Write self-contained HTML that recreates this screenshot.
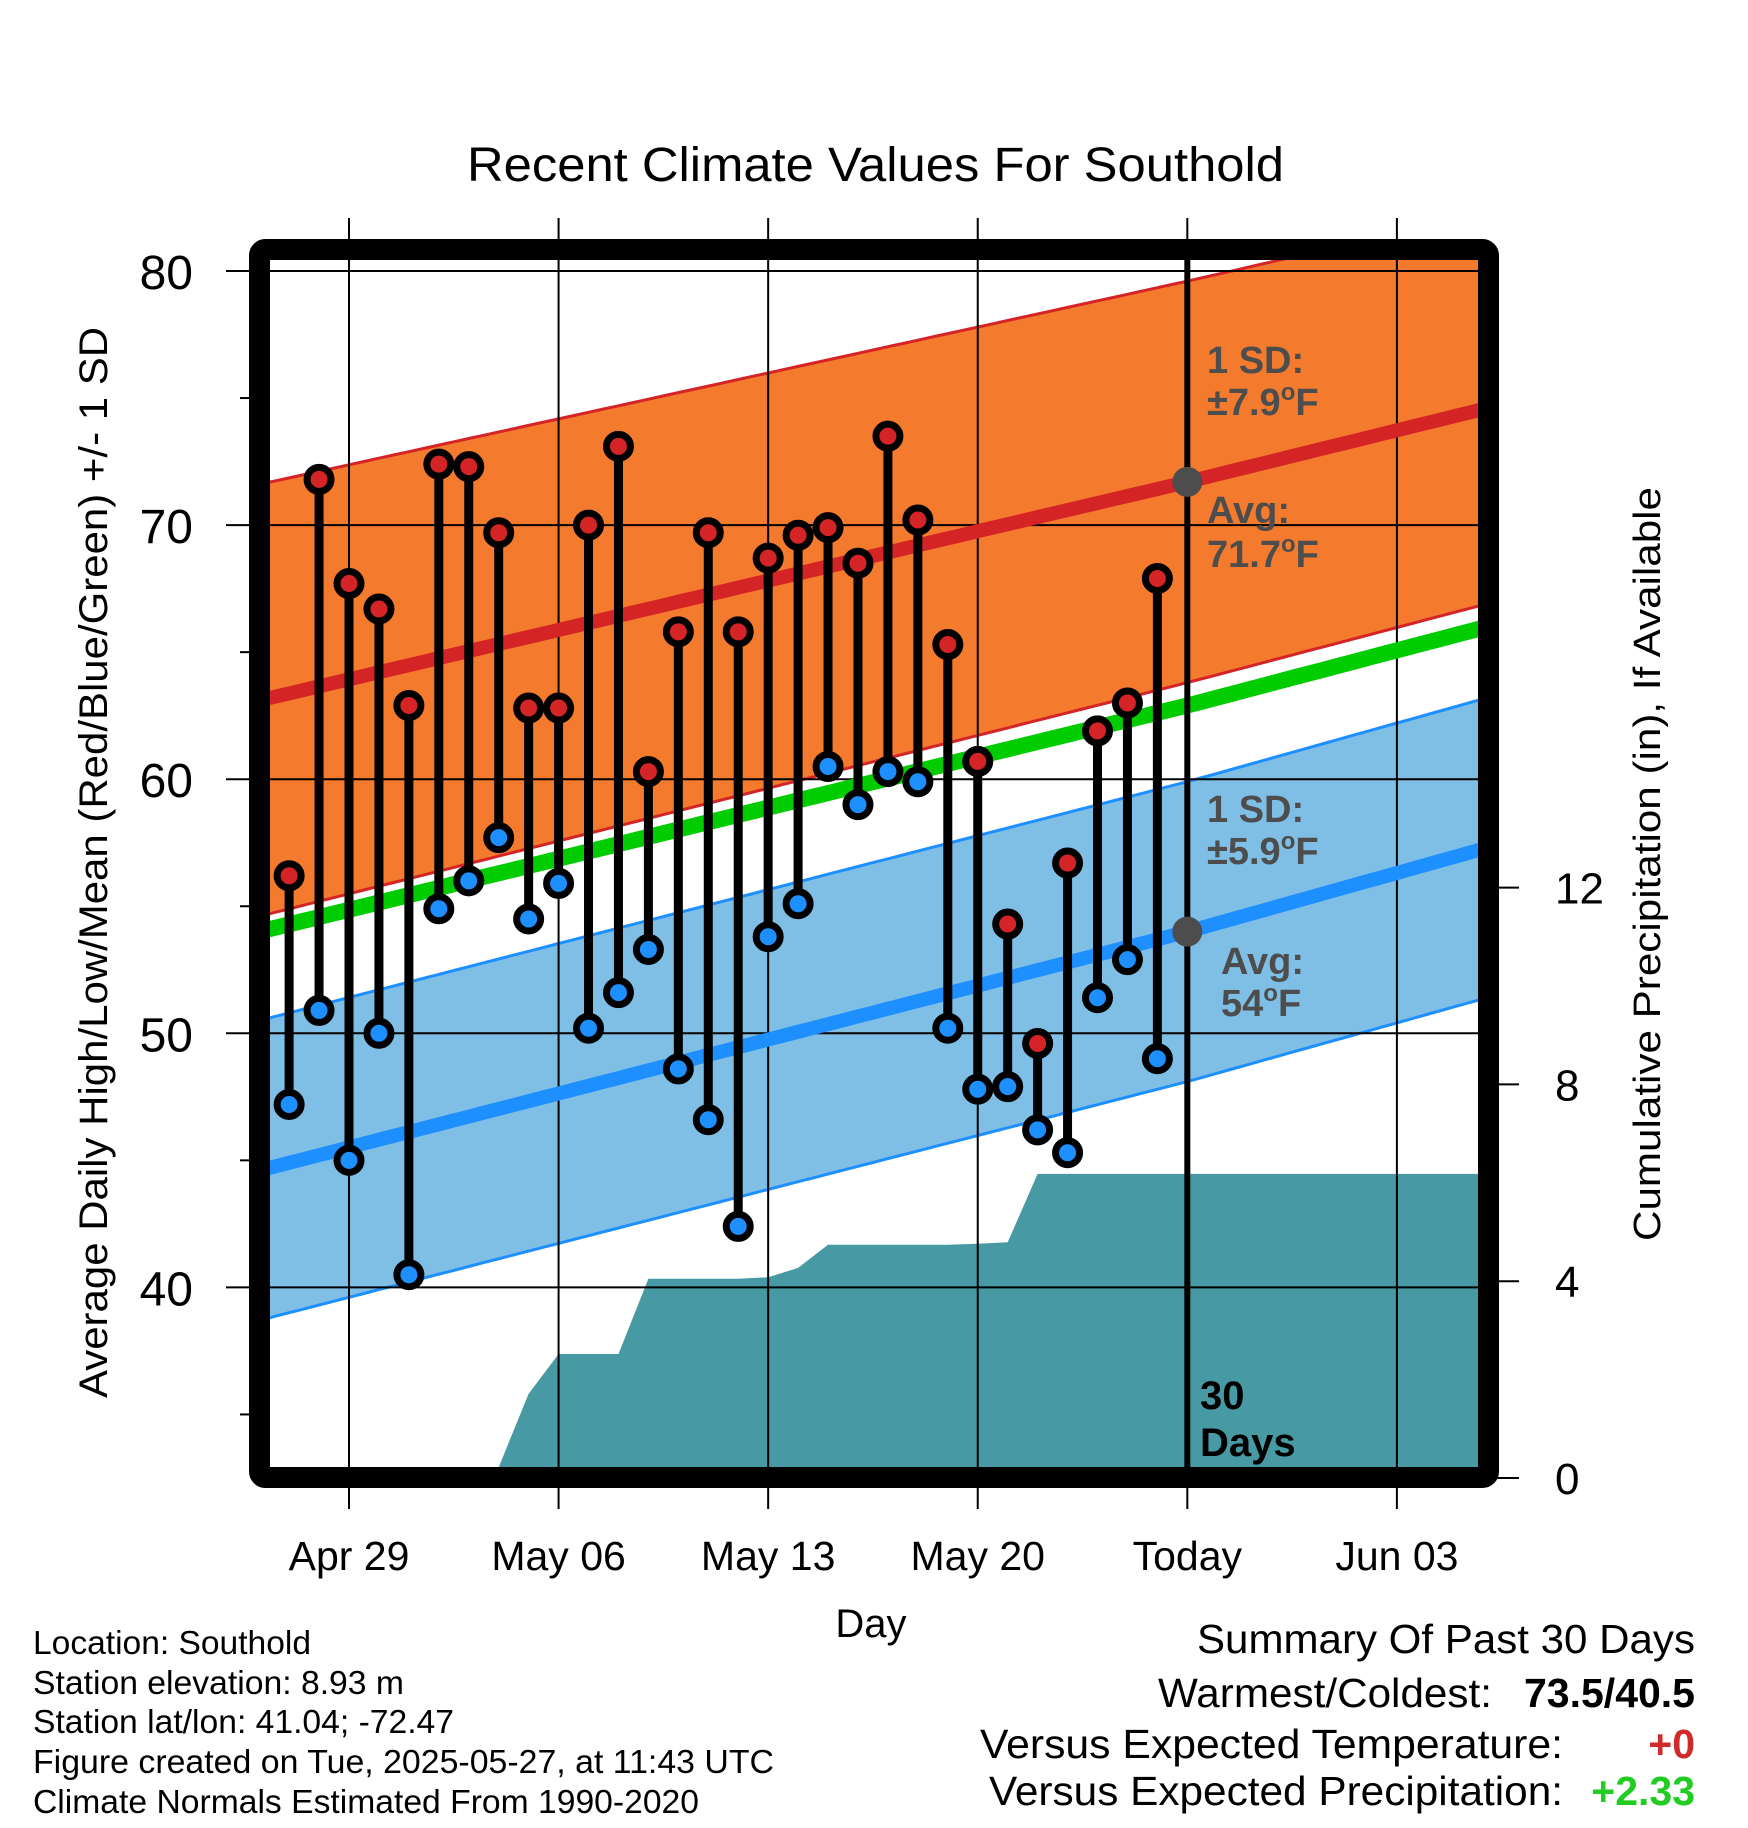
<!DOCTYPE html>
<html><head><meta charset="utf-8"><style>
html,body{margin:0;padding:0;background:#fff;}
svg{display:block;font-family:"Liberation Sans",Arial,sans-serif;}
</style></head><body>
<svg id="chart" width="1748" height="1828" viewBox="0 0 1748 1828" xmlns="http://www.w3.org/2000/svg">
<defs><clipPath id="plotclip"><rect x="270" y="260" width="1208" height="1208"/></clipPath></defs>
<g id="bands" clip-path="url(#plotclip)"></g>
<g id="grid"></g>
<g id="lines" clip-path="url(#plotclip)"></g>
<g id="marks"></g>
<g id="axes"></g>
<text x="467" y="181" font-size="48" textLength="817" lengthAdjust="spacingAndGlyphs">Recent Climate Values For Southold</text>
<text transform="translate(107,1398) rotate(-90)" font-size="40" textLength="1071" lengthAdjust="spacingAndGlyphs">Average Daily High/Low/Mean (Red/Blue/Green) +/- 1 SD</text>
<text transform="translate(1660,1241) rotate(-90)" font-size="38" textLength="754" lengthAdjust="spacingAndGlyphs">Cumulative Precipitation (in), If Available</text>
<text x="871" y="1637" font-size="40" text-anchor="middle">Day</text>
<g fill="#4d4d4d" font-weight="bold" font-size="38">
<text x="1207" y="373">1 SD:</text>
<text x="1207" y="415">±7.9<tspan font-size="24" dy="-15">o</tspan><tspan dy="15">F</tspan></text>
<text x="1207" y="523">Avg:</text>
<text x="1207" y="567">71.7<tspan font-size="24" dy="-15">o</tspan><tspan dy="15">F</tspan></text>
<text x="1207" y="822">1 SD:</text>
<text x="1207" y="864">±5.9<tspan font-size="24" dy="-15">o</tspan><tspan dy="15">F</tspan></text>
<text x="1221" y="974">Avg:</text>
<text x="1221" y="1016">54<tspan font-size="24" dy="-15">o</tspan><tspan dy="15">F</tspan></text>
</g>
<g fill="#000" font-weight="bold" font-size="40">
<text x="1200" y="1409">30</text><text x="1200" y="1456">Days</text>
</g>
<g font-size="33">
<text x="33" y="1654" textLength="278" lengthAdjust="spacingAndGlyphs">Location: Southold</text>
<text x="33" y="1694" textLength="371" lengthAdjust="spacingAndGlyphs">Station elevation: 8.93 m</text>
<text x="33" y="1733" textLength="421" lengthAdjust="spacingAndGlyphs">Station lat/lon: 41.04; -72.47</text>
<text x="33" y="1773" textLength="741" lengthAdjust="spacingAndGlyphs">Figure created on Tue, 2025-05-27, at 11:43 UTC</text>
<text x="33" y="1813" textLength="666" lengthAdjust="spacingAndGlyphs">Climate Normals Estimated From 1990-2020</text>
</g>
<g font-size="41">
<text x="1197" y="1653" textLength="498" lengthAdjust="spacingAndGlyphs">Summary Of Past 30 Days</text>
<text x="1158" y="1707" textLength="334" lengthAdjust="spacingAndGlyphs">Warmest/Coldest:</text>
<text x="1695" y="1707" text-anchor="end" font-weight="bold">73.5/40.5</text>
<text x="980" y="1758" textLength="583" lengthAdjust="spacingAndGlyphs">Versus Expected Temperature:</text>
<text x="1695" y="1758" text-anchor="end" font-weight="bold" fill="#d02a2a">+0</text>
<text x="989" y="1805" textLength="574" lengthAdjust="spacingAndGlyphs">Versus Expected Precipitation:</text>
<text x="1695" y="1805" text-anchor="end" font-weight="bold" fill="#22cc22">+2.33</text>
</g>
</svg>
<script>
// day index: 0 = Apr 29
const days = [-2,-1,0,1,2,3,4,5,6,7,8,9,10,11,12,13,14,15,16,17,18,19,20,21,22,23,24,25,26,27];
const highs = [56.2,71.8,67.7,66.7,62.9,72.4,72.3,69.7,62.8,62.8,70.0,73.1,60.3,65.8,69.7,65.8,68.7,69.6,69.9,68.5,73.5,70.2,65.3,60.7,54.3,49.6,56.7,61.9,63.0,67.9];
const lows = [47.2,50.9,45.0,50.0,40.5,54.9,56.0,57.7,54.5,55.9,50.2,51.6,53.3,48.6,46.6,42.4,53.8,55.1,60.5,59.0,60.3,59.9,50.2,47.8,47.9,46.2,45.3,51.4,52.9,49.0];
const precipDays = [-3,4,5,6,7,8,9,10,11,12,13,14,15,16,17,18,19,20,21,22,23,38];
const precipCum = [0,0,0.22,1.71,2.52,2.52,2.52,4.05,4.05,4.05,4.05,4.08,4.27,4.74,4.74,4.74,4.74,4.74,4.76,4.79,6.18,6.18];
const normDays = [-3,28,38];
const normHigh = [63.1,71.7,74.6];
const normLow = [44.6,54.0,57.3];
const normMean = [54.0,62.9,66.0];
const sdHigh = [8.5,7.9,7.7];
const sdLow = [5.9,5.9,5.9];
const tempTicks = [40,50,60,70,80];
const tempMinor = [35,45,55,65,75];
const precipTicks = [0,4,8,12];
const xTickDays = [0,7,14,21,28,35];
const xTickLabels = ["Apr 29","May 06","May 13","May 20","Today","Jun 03"];
const todayDay = 28;

const NS = "http://www.w3.org/2000/svg";
const X = d => 349 + d * 29.94;
const Y = t => 271 + (80 - t) * 25.41;
const YP = p => 1478 - p * 49.2;
function mk(tag, attrs, parent){const e=document.createElementNS(NS,tag);for(const k in attrs)e.setAttribute(k,attrs[k]);parent.appendChild(e);return e;}
function interp(xs, ys, x){for(let i=0;i<xs.length-1;i++){if(x<=xs[i+1]||i===xs.length-2){const f=(x-xs[i])/(xs[i+1]-xs[i]);return ys[i]+f*(ys[i+1]-ys[i]);}}}
const samp=[];for(let d=-3;d<=38;d+=0.5)samp.push(d);
function pts(arr,sd,sign){return samp.map(d=>X(d).toFixed(1)+","+Y(interp(normDays,arr,d)+sign*interp(normDays,sd,d)).toFixed(1));}
const zero=[0,0,0];

const bands=document.getElementById('bands');
const hb=mk('polygon',{points:pts(normHigh,sdHigh,1).concat(pts(normHigh,sdHigh,-1).reverse()).join(' '),fill:'#f47a2e'},bands);


const lb=mk('polygon',{points:pts(normLow,sdLow,1).concat(pts(normLow,sdLow,-1).reverse()).join(' '),fill:'#7fbfe6'},bands);


[[normHigh,sdHigh,1,'#d42426'],[normHigh,sdHigh,-1,'#d42426'],[normLow,sdLow,1,'#1e8fff'],[normLow,sdLow,-1,'#1e8fff']].forEach(a=>{
  const l=mk('polyline',{points:pts(a[0],a[1],a[2]).join(' '),fill:'none',stroke:a[3],'stroke-width':3},bands);
  
  
});
let pp=[X(-3)+","+YP(0)];
precipDays.forEach((d,i)=>pp.push(X(d).toFixed(1)+","+YP(precipCum[i]).toFixed(1)));
pp.push(X(38)+","+YP(0));
const pa=mk('polygon',{points:pp.join(' '),fill:'#4799a3'},bands);



const grid=document.getElementById('grid');
tempTicks.forEach(t=>{
  const l=mk('line',{x1:226,x2:1478,y1:Y(t),y2:Y(t),stroke:'#000','stroke-width':2},grid);
  
  
});
xTickDays.forEach(d=>{
  const l=mk('line',{x1:X(d),x2:X(d),y1:218,y2:1509,stroke:'#000','stroke-width':2},grid);
  
  
});

const lines=document.getElementById('lines');
[[normMean,'#00cc00',16,'mean-normal-line'],[normHigh,'#d42426',14,'high-normal-line'],[normLow,'#1e8fff',14,'low-normal-line']].forEach(a=>{
  const l=mk('polyline',{points:pts(a[0],zero,0).join(' '),fill:'none',stroke:a[1],'stroke-width':a[2]},lines);
  
  
});

const marks=document.getElementById('marks');
const tl=mk('line',{x1:X(todayDay),x2:X(todayDay),y1:260,y2:1468,stroke:'#000','stroke-width':6},marks);


[normHigh,normLow].forEach(arr=>{
  const c=mk('circle',{cx:X(todayDay),cy:Y(interp(normDays,arr,todayDay)),r:15,fill:'#4d4d4d'},marks);
  
  
});
days.forEach((d,i)=>{
  const s=mk('line',{x1:X(d),x2:X(d),y1:Y(highs[i]),y2:Y(lows[i]),stroke:'#000','stroke-width':9},marks);
  
  
});
days.forEach((d,i)=>{
  const h=mk('circle',{cx:X(d),cy:Y(highs[i]),r:12,fill:'#d42426',stroke:'#000','stroke-width':7},marks);
  
  
  const l=mk('circle',{cx:X(d),cy:Y(lows[i]),r:12,fill:'#1e8fff',stroke:'#000','stroke-width':7},marks);
  
  
});

const axes=document.getElementById('axes');
const fr=mk('rect',{x:259.5,y:249.5,width:1229,height:1228,fill:'none',stroke:'#000','stroke-width':21,rx:6},axes);


tempTicks.forEach(t=>{
  const tx=mk('text',{x:193,y:Y(t)+18,'font-size':48,'text-anchor':'end'},axes);
  tx.textContent=t;
  
  
});
tempMinor.forEach(t=>{
  const l=mk('line',{x1:240,x2:255,y1:Y(t),y2:Y(t),stroke:'#000','stroke-width':2},axes);
  
  
});
precipTicks.forEach(p=>{
  const l=mk('line',{x1:1488,x2:1519,y1:YP(p),y2:YP(p),stroke:'#000','stroke-width':2},axes);
  
  
  const tx=mk('text',{x:1555,y:YP(p)+16,'font-size':44},axes);
  tx.textContent=p;
  
  
});
xTickDays.forEach((d,i)=>{
  const tx=mk('text',{x:X(d),y:1570,'font-size':41,'text-anchor':'middle'},axes);
  tx.textContent=xTickLabels[i];
  
  
});
</script>
</body></html>
